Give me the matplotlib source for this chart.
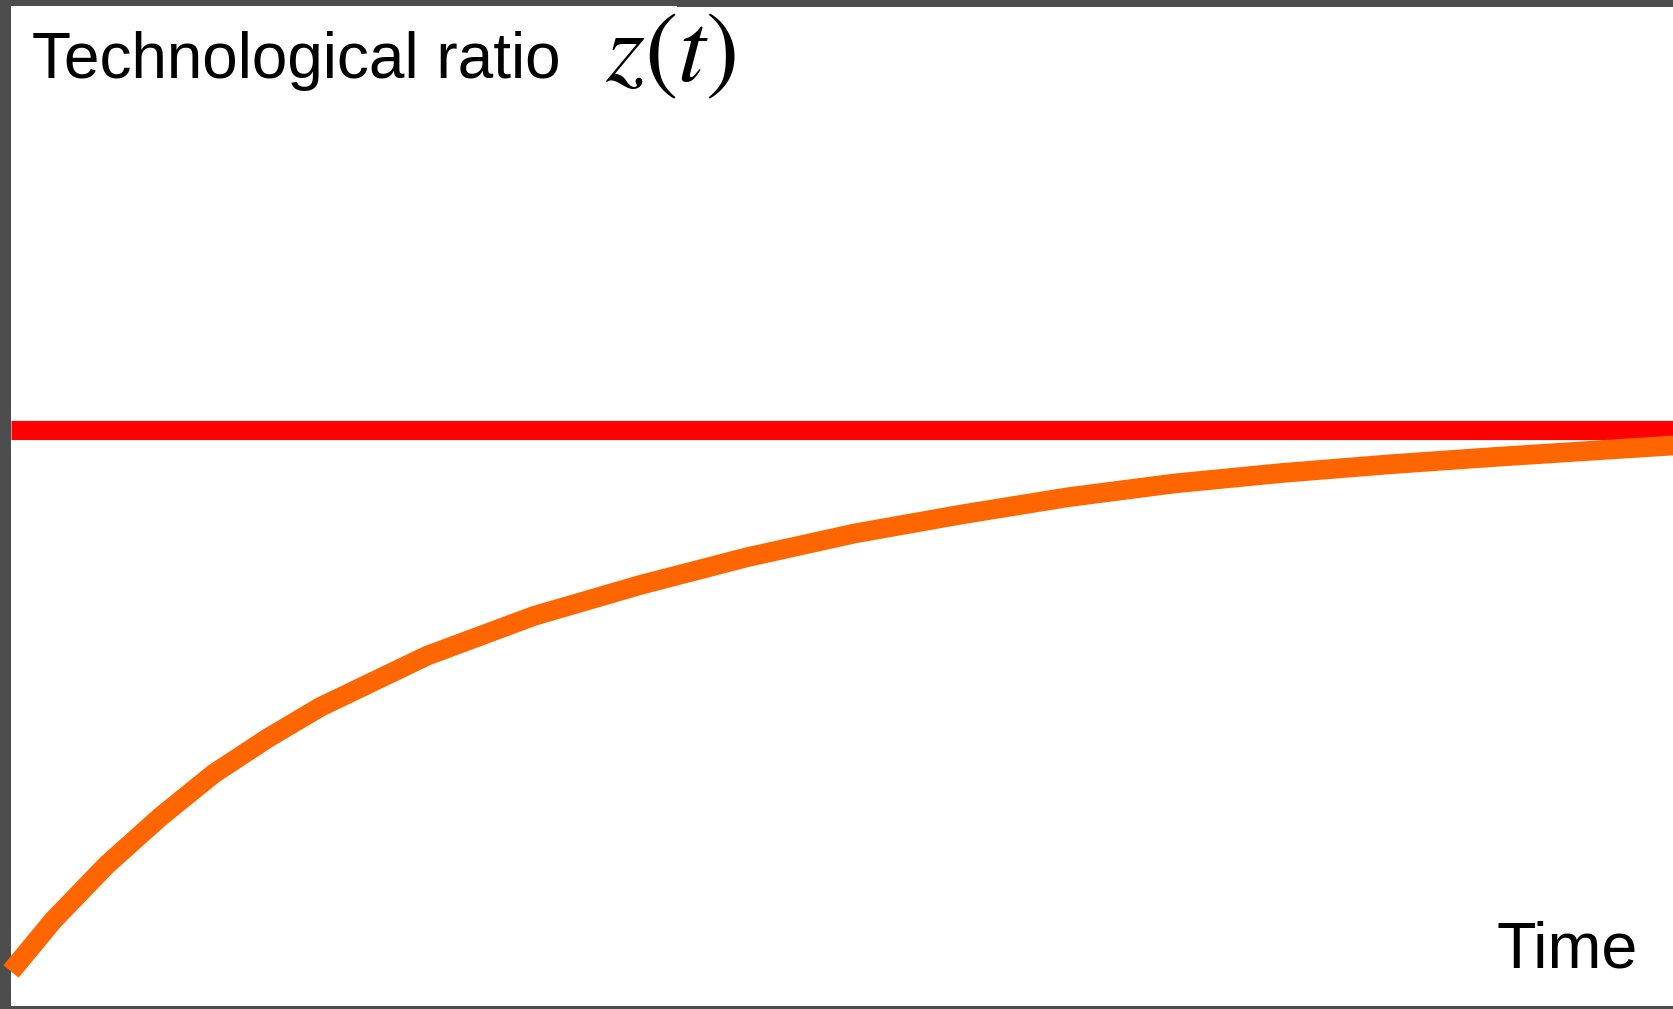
import matplotlib
matplotlib.use("Agg")
import matplotlib.pyplot as plt
from matplotlib.patches import Rectangle

# Technological ratio z(t) converging toward its long-run level
time = [0.0, 0.255, 0.576, 0.897, 1.218, 1.539, 1.860, 2.502, 3.144, 3.786,
        4.428, 5.069, 5.712, 6.354, 6.996, 7.637, 8.280, 8.922, 10.0]
ratio = [0.060, 0.149, 0.245, 0.328, 0.403, 0.464, 0.519, 0.608, 0.677, 0.731,
         0.779, 0.820, 0.853, 0.883, 0.907, 0.925, 0.940, 0.953, 0.973]
steady_state = 1.0

W, H = 1674, 1009
fig = plt.figure(figsize=(W / 100, H / 100), dpi=100, facecolor="#4d4d4d")

left, right, bottom, top = 11, W, 3, 7   # pixel margins of the white panel
ax = fig.add_axes([left / W, bottom / H, (right - left) / W, (H - top - bottom) / H])
ax.set_facecolor("white")
ax.set_xlim(0, 10)
ax.set_ylim(0, 1.734)
ax.set_axis_off()
ax.add_patch(Rectangle((0, 0), 1, 1, transform=ax.transAxes, facecolor="white",
                       edgecolor="none", zorder=0))

# thin white sliver along the top-left edge
fig.patches.append(Rectangle((left / W, (H - top) / H), (677 - left) / W, 1 / H,
                             transform=fig.transFigure, facecolor="white",
                             edgecolor="none"))

ax.plot([0, 10], [steady_state, steady_state], color="#ff0000", lw=13.8,
        solid_capstyle="butt", zorder=2)
ax.plot(time, ratio, color="#ff6600", lw=14.2, solid_capstyle="butt",
        solid_joinstyle="round", zorder=3, clip_on=False)

fig.text(32 / W, (H - 78) / H, "Technological ratio", family="Liberation Sans",
         fontsize=46, color="black", ha="left", va="baseline")
fig.text(605 / W, (H - 81) / H, r"$z(t)$", fontsize=72, color="black",
         ha="left", va="baseline", math_fontfamily="stix")
fig.text(1497 / W, (H - 968) / H, "Time", family="Liberation Sans",
         fontsize=46.5, color="black", ha="left", va="baseline")

fig.savefig("out.png", dpi=100, facecolor=fig.get_facecolor())
